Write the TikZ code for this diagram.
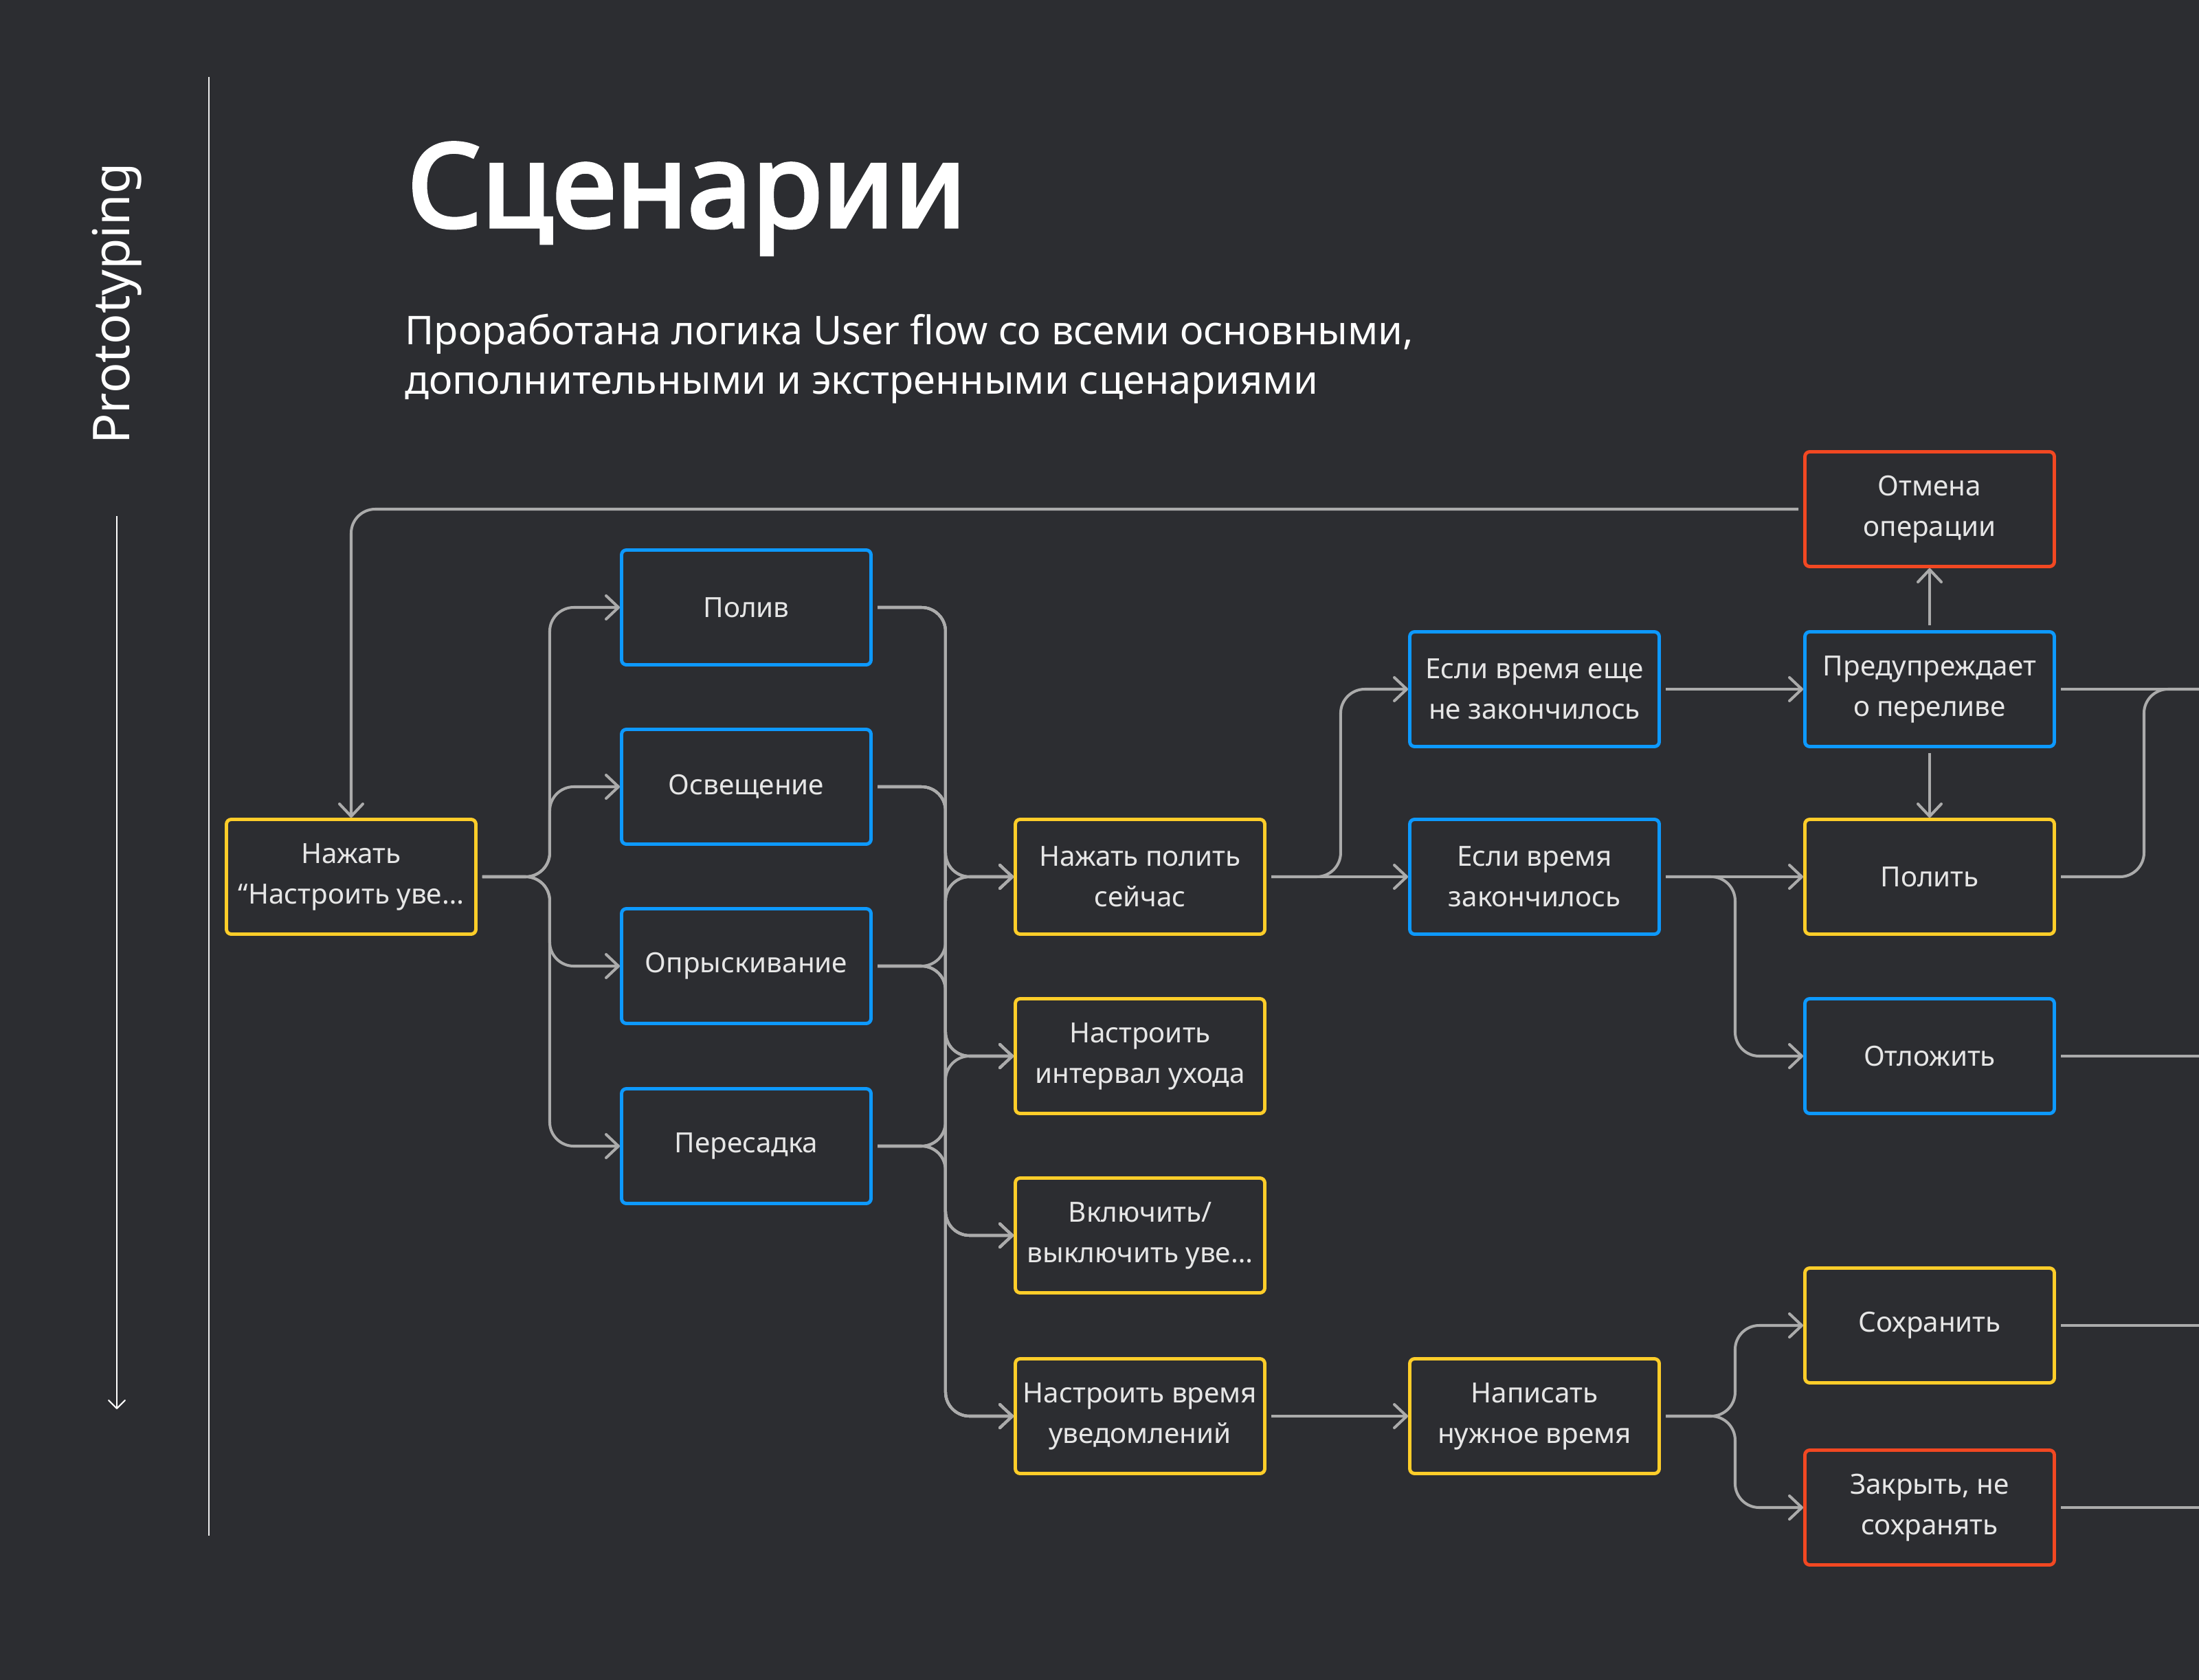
\documentclass[tikz,border=0pt]{standalone}
\usepackage{fontspec}
\setmainfont{Noto Sans}[AutoFakeBold=3.2]
\usepackage{xcolor}
\usepackage{tikz}
\usetikzlibrary{arrows.meta}
\definecolor{bgdark}{HTML}{2C2D31}
\definecolor{boxyellow}{HTML}{FFCD29}
\definecolor{boxblue}{HTML}{0D99FF}
\definecolor{boxred}{HTML}{F24822}
\definecolor{linegray}{HTML}{ABABAB}
\definecolor{boxtext}{HTML}{E6E6E6}

\begin{document}
\begin{tikzpicture}[
        box/.style={rectangle, draw, rounded corners=2pt, line width=1.4pt, inner sep=2pt,
            minimum width=3.63cm, minimum height=1.67cm, align=center, text=boxtext,
            font=\fontsize{11.5}{16.8}\selectfont},
        yellowbox/.style={box, draw=boxyellow},
        bluebox/.style={box, draw=boxblue},
        redbox/.style={box, draw=boxred},
        flow/.style={draw=linegray, line width=1.15pt, rounded corners=0.35cm, shorten <=2pt},
        arr/.style={-{Straight Barb[length=1.8mm, width=3.4mm, round]}}
    ]
        \useasboundingbox (0, 0) rectangle (32, -24.45);
        \fill[bgdark] (0, 0) rectangle (32, -24.45);

        \draw[white!85!gray, line width=0.45pt] (3.04, -1.12) -- (3.04, -22.35);
        \draw[white, line width=0.6pt, -{Straight Barb[length=1.2mm, width=2.4mm, round]}] (1.70, -7.51) -- (1.70, -20.51);
        \node[rotate=90, text=white, font=\fontsize{21}{25}\selectfont] at (1.70, -4.42) (proto) {Prototyping};

        \node[anchor=base west, inner sep=0, text=white, font=\fontsize{48}{58}\selectfont\bfseries] at (5.92, -3.30) (title) {Сценарии};
        \node[anchor=base west, inner sep=0, text=white, font=\fontsize{16.4}{20}\selectfont] at (5.89, -5.01) (sub1) {Проработана логика User flow со всеми основными,};
        \node[anchor=base west, inner sep=0, text=white, font=\fontsize{16.4}{20}\selectfont] at (5.89, -5.73) (sub2) {дополнительными и экстренными сценариями};

        \node[yellowbox] at (5.11, -12.76) (start) {Нажать\\“Настроить уве…};
        \node[bluebox] at (10.86, -8.84) (poliv) {Полив};
        \node[bluebox] at (10.86, -11.45) (light) {Освещение};
        \node[bluebox] at (10.86, -14.06) (spray) {Опрыскивание};
        \node[bluebox] at (10.86, -16.68) (trans) {Пересадка};
        \node[yellowbox] at (16.59, -12.76) (water) {Нажать полить\\сейчас};
        \node[yellowbox] at (16.59, -15.37) (interval) {Настроить\\интервал ухода};
        \node[yellowbox] at (16.59, -17.98) (notif) {Включить/\\выключить уве…};
        \node[yellowbox] at (16.59, -20.61) (ntime) {Настроить время\\уведомлений};
        \node[bluebox] at (22.33, -10.03) (notyet) {Если время еще\\не закончилось};
        \node[bluebox] at (22.33, -12.76) (over) {Если время\\закончилось};
        \node[yellowbox] at (22.33, -20.61) (write) {Написать\\нужное время};
        \node[redbox] at (28.08, -7.41) (cancel) {Отмена\\операции};
        \node[bluebox] at (28.08, -10.03) (warn) {Предупреждает\\о переливе};
        \node[yellowbox] at (28.08, -12.76) (pour) {Полить};
        \node[bluebox] at (28.08, -15.37) (delay) {Отложить};
        \node[yellowbox] at (28.08, -19.29) (save) {Сохранить};
        \node[redbox] at (28.08, -21.94) (close) {Закрыть, не\\сохранять};

        \coordinate (outA) at (32, -10.03);
        \coordinate (outB) at (32, -15.37);
        \coordinate (outC) at (32, -19.29);
        \coordinate (outD) at (32, -21.94);

        \draw[flow, arr] (cancel.west) -| (start.north);
        \foreach \n in {poliv, light, spray, trans}
            \draw[flow, arr] (start.east) -- ++(1.05, 0) |- (\n.west);
        \foreach \a in {poliv, light, spray, trans}
            \foreach \b in {water, interval, notif, ntime}
                \draw[flow, arr] (\a.east) -- ++(1.06, 0) |- (\b.west);

        \draw[flow, arr] (water.east) -- (over.west);
        \draw[flow, arr] (water.east) -- ++(1.08, 0) |- (notyet.west);
        \draw[flow, arr] (notyet.east) -- (warn.west);
        \draw[flow, arr] (over.east) -- (pour.west);
        \draw[flow, arr] (over.east) -- ++(1.08, 0) |- (delay.west);
        \draw[flow, arr] (warn.north) -- (cancel.south);
        \draw[flow, arr] (warn.south) -- (pour.north);
        \draw[flow, arr] (ntime.east) -- (write.west);
        \draw[flow, arr] (write.east) -- ++(1.08, 0) |- (save.west);
        \draw[flow, arr] (write.east) -- ++(1.08, 0) |- (close.west);

        \draw[flow] (warn.east) -- (outA);
        \draw[flow] (pour.east) -- ++(1.28, 0) |- (outA);
        \draw[flow] (delay.east) -- (outB);
        \draw[flow] (save.east) -- (outC);
        \draw[flow] (close.east) -- (outD);
    \end{tikzpicture}
\end{document}
